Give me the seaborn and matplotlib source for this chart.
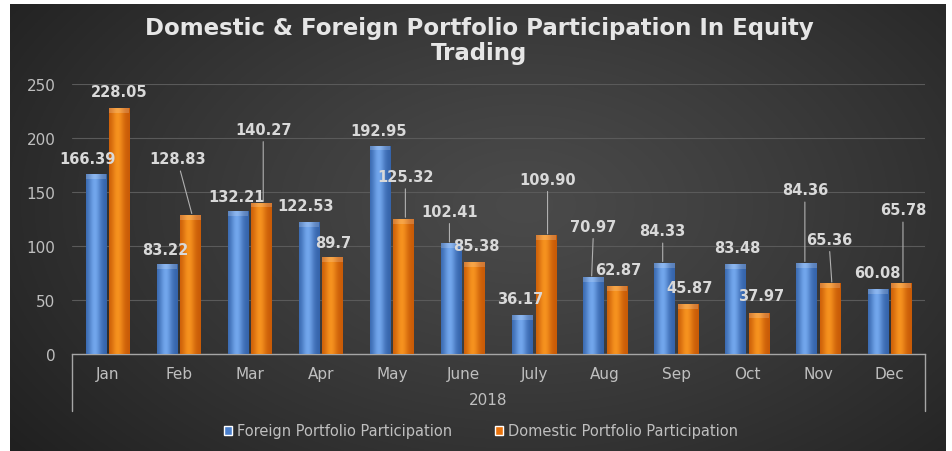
import numpy as np
import pandas as pd
import matplotlib
matplotlib.use('Agg')
import matplotlib.pyplot as plt
import matplotlib.colors as mcolors
from matplotlib.patches import Patch
import seaborn as sns

"""
Data read off the chart
"""
months = ['Jan', 'Feb', 'Mar', 'Apr', 'May', 'June', 'July', 'Aug', 'Sep', 'Oct', 'Nov', 'Dec']
foreign = [166.39, 83.22, 132.21, 122.53, 192.95, 102.41, 36.17, 70.97, 84.33, 83.48, 84.36, 60.08]
domestic = [228.05, 128.83, 140.27, 89.7, 125.32, 85.38, 109.90, 62.87, 45.87, 37.97, 65.36, 65.78]
foreign_text = ['166.39', '83.22', '132.21', '122.53', '192.95', '102.41', '36.17', '70.97', '84.33', '83.48', '84.36', '60.08']
domestic_text = ['228.05', '128.83', '140.27', '89.7', '125.32', '85.38', '109.90', '62.87', '45.87', '37.97', '65.36', '65.78']
series = ['Foreign Portfolio Participation', 'Domestic Portfolio Participation']
year = '2018'

# label offsets from bar top in pixels (dx, dy up, leader line?)
foreign_off = [(-7, 16, 0), (0, 15, 0), (0, 15, 0), (-2, 16, 0), (0, 15, 0), (0, 32, 1),
               (0, 16, 0), (2, 51, 1), (0, 32, 1), (4, 16, 0), (0, 73, 1), (1, 17, 0)]
domestic_off = [(-2, 16, 0), (-15, 56, 1), (0, 73, 1), (-1, 15, 0), (0, 42, 1), (0, 16, 0),
                (0, 56, 1), (0, 17, 0), (0, 17, 0), (0, 17, 0), (-3, 44, 1), (0, 73, 1)]

df = pd.DataFrame({'Month': months * 2,
                   'Value': foreign + domestic,
                   'Series': [series[0]] * 12 + [series[1]] * 12})

blue = '#4a7fcc'
orange = '#e8720c'
text_col = '#bfbfbf'
label_col = '#d9d9d9'

sns.set_style('white')
plt.rcParams['font.family'] = ['DejaVu Sans']

fig = plt.figure(figsize=(9.52, 4.52), dpi=100, facecolor='white')

"""
Dark radial background
"""
bg = fig.add_axes([10 / 952, 0, 936 / 952, 447 / 452])
yy, xx = np.mgrid[0:1:300j, 0:1:600j]
r = np.sqrt(((xx - 0.55) * 1.3) ** 2 + (yy - 0.45) ** 2)
r = np.clip(r / r.max(), 0, 1)
dark = np.array(mcolors.to_rgb('#202020'))
light = np.array(mcolors.to_rgb('#4a4a4a'))
img = light[None, None, :] + (dark - light)[None, None, :] * (r[..., None] ** 1.2)
bg.imshow(img, aspect='auto', extent=[0, 1, 0, 1], origin='upper')
bg.axis('off')

"""
Bars
"""
ax = fig.add_axes([72 / 952, (452 - 355) / 452, 853 / 952, 270 / 452])
ax.patch.set_alpha(0)
sns.barplot(data=df, x='Month', y='Value', hue='Series', hue_order=series,
            palette=[blue, orange], saturation=1, width=0.66, gap=0.13,
            linewidth=0, legend=False, ax=ax, zorder=3)

# horizontal shading on each bar (first 12 patches foreign, next 12 domestic)
grad_cols = [('#3463aa', '#72a6ec'), ('#c85a06', '#f6921f')]
t = np.linspace(0, 1, 40)
prof = np.exp(-((t - 0.42) / 0.3) ** 2)
bars = [p for p in ax.patches if p.get_height() > 0]
for k, p in enumerate(bars):
    d = np.array(mcolors.to_rgb(grad_cols[k // 12][0]))
    l = np.array(mcolors.to_rgb(grad_cols[k // 12][1]))
    row = d[None, :] + (l - d)[None, :] * prof[:, None]
    x0, w, h = p.get_x(), p.get_width(), p.get_height()
    im = ax.imshow(row[None, :, :], extent=[x0, x0 + w, 0, h], aspect='auto', zorder=3.5)
    im.set_clip_path(p)
    # light cap on top of the bar
    ax.fill_between([x0, x0 + w], h - 4.5, h, color='white', alpha=0.18, lw=0, zorder=3.6)

ax.set_xlim(-0.5, 11.5)
ax.set_ylim(0, 250)
ax.set_yticks([0, 50, 100, 150, 200, 250])
ax.grid(axis='y', color='#5a5a5a', lw=0.8, zorder=0)
ax.set_axisbelow(True)
for s in ['top', 'right', 'left']:
    ax.spines[s].set_visible(False)
ax.spines['bottom'].set_color('#a6a6a6')
ax.spines['bottom'].set_linewidth(1)
ax.tick_params(axis='both', length=0, colors=text_col, labelsize=11)
ax.tick_params(axis='y', pad=12)
ax.tick_params(axis='x', pad=9)
ax.set_xlabel('')
ax.set_ylabel('')

# two level category axis
ax.plot([0, 0], [0, -0.211], transform=ax.transAxes, color='#a6a6a6', lw=1, clip_on=False)
ax.plot([1, 1], [0, -0.211], transform=ax.transAxes, color='#a6a6a6', lw=1, clip_on=False)
ax.text(0.488, -0.168, year, transform=ax.transAxes, ha='center', va='center',
        color=text_col, fontsize=11)

"""
Data labels
"""
for vals, txts, offs, shift in [(foreign, foreign_text, foreign_off, -0.19),
                                (domestic, domestic_text, domestic_off, 0.19)]:
    for i, v in enumerate(vals):
        dx, dy, line = offs[i]
        arrow = dict(arrowstyle='-', color='#b0b0b0', lw=0.8, shrinkA=1, shrinkB=1) if line else None
        ax.annotate(txts[i], xy=(i + shift, v), xytext=(dx, dy), textcoords='offset pixels',
                    ha='center', va='center', fontsize=10.5, fontweight='bold', color=label_col,
                    arrowprops=arrow, zorder=5)

"""
Title and legend
"""
fig.text(479 / 952, 1 - 41 / 452, 'Domestic & Foreign Portfolio Participation In Equity\nTrading',
         ha='center', va='center', fontsize=16.5, fontweight='bold', color='#e6e6e6', linespacing=1.08)

handles = [Patch(facecolor=blue, label=series[0]), Patch(facecolor=orange, label=series[1])]
leg = fig.legend(handles=handles, loc='center', bbox_to_anchor=(481 / 952, 1 - 432 / 452), ncol=2,
                 frameon=False, fontsize=10.5, handlelength=0.55, handleheight=0.55,
                 handletextpad=0.3, columnspacing=3.0)
for txt in leg.get_texts():
    txt.set_color(text_col)

plt.savefig('out.png', dpi=100, facecolor='white')
